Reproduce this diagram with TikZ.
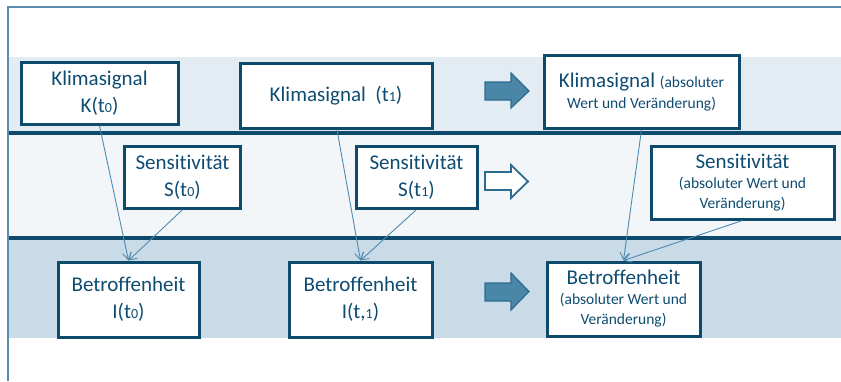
\documentclass[tikz,border=0pt]{standalone}
\usepackage{fontspec}
\setmainfont[Ligatures=NoCommon]{Carlito}
\usetikzlibrary{arrows.meta}
\definecolor{txt}{HTML}{0F4C72}
\definecolor{bord}{HTML}{0E4A6B}
\definecolor{frame}{HTML}{5B8DB0}
\definecolor{bandA}{HTML}{E4ECF3}
\definecolor{bandB}{HTML}{F3F6F9}
\definecolor{bandC}{HTML}{C9DBE7}
\definecolor{conn}{HTML}{4F8AB0}
\definecolor{arrfill}{HTML}{4A86A8}
\definecolor{arrline}{HTML}{2D6C90}
\newcommand\lowdig[1]{{\fontsize{14}{14}\selectfont #1}}
\newcommand\bigf{\fontsize{21}{27}\selectfont}
\newcommand\smallf{\fontsize{15.5}{19}\selectfont}
\tikzset{
  box/.style={draw=bord, line width=3pt, fill=white, text=txt, align=center, inner sep=0pt, font=\bigf},
  conn/.style={draw=conn, line width=0.9pt, -{Straight Barb[length=7pt,width=9pt]}},
  sep/.style={draw=bord, line width=4.5pt},
  fatarrow/.style={fill=arrfill, draw=arrline, line width=1.2pt},
  hollowarrow/.style={fill=white, draw=arrline, line width=1.8pt},
}
\begin{document}
\begin{tikzpicture}[x=1pt,y=-1pt]
\useasboundingbox (0,0) rectangle (841,381);
% bands
\fill[bandA] (9,57) rectangle (841,131);
\fill[bandB] (9,135) rectangle (841,236);
\fill[bandC] (9,240) rectangle (841,338);
\draw[sep] (9,133) -- (841,133);
\draw[sep] (9,238) -- (841,238);
% frame
\draw[frame, line width=2pt] (8,381) -- (8,7) -- (841,7);
% boxes
\node[box, minimum width=157pt, minimum height=62pt] (K0) at (99.5,93.3) {Klimasignal\\K(t\lowdig{0})};
\node[box, minimum width=192pt, minimum height=65pt] (K1) at (336,95.8) {Klimasignal\ \ (t\lowdig{1})};
\node[box, minimum width=195pt, minimum height=73pt] (K2) at (641.5,91.7) {Klimasignal {\smallf(absoluter}\\[-6pt]{\smallf Wert und Veränderung)}};
\node[box, minimum width=116pt, minimum height=62pt] (S0) at (182.5,177.2) {Sensitivität\\S(t\lowdig{0})};
\node[box, minimum width=121pt, minimum height=62pt] (S1) at (416.5,177.1) {Sensitivität\\S(t\lowdig{1})};
\node[box, minimum width=183pt, minimum height=73pt] (S2) at (742.5,182.5) {Sensitivität\\[-7pt]{\smallf(absoluter Wert und}\\[-7pt]{\smallf Veränderung)}};
\node[box, minimum width=141pt, minimum height=75pt] (B0) at (128.5,299.5) {Betroffenheit\\I(t\lowdig{0})};
\node[box, minimum width=143pt, minimum height=75pt] (B1) at (360.5,299.5) {Betroffenheit\\I(t,\lowdig{1})};
\node[box, minimum width=153pt, minimum height=74pt] (B2) at (623.5,299) {Betroffenheit\\[-7pt]{\smallf(absoluter Wert und}\\[-7pt]{\smallf Veränderung)}};
% block arrows
\draw[fatarrow] (485,82) -- (511,82) -- (511,73) -- (529,91) -- (511,108) -- (511,100) -- (485,100) -- cycle;
\draw[hollowarrow] (485,172) -- (511,172) -- (511,165) -- (528,181.5) -- (511,198) -- (511,190) -- (485,190) -- cycle;
\draw[fatarrow] (485,283) -- (511,283) -- (511,273) -- (529,291.5) -- (511,310) -- (511,301) -- (485,301) -- cycle;
% connectors
\draw[conn] (K0.south) -- (B0.north);
\draw[conn] (S0.south) -- (B0.north);
\draw[conn] ([xshift=1pt]K1.south) -- (B1.north);
\draw[conn] (S1.south) -- (B1.north);
\draw[conn] (K2.south) -- (B2.north);
\draw[conn] (S2.south) -- (B2.north);
\end{tikzpicture}
\end{document}
